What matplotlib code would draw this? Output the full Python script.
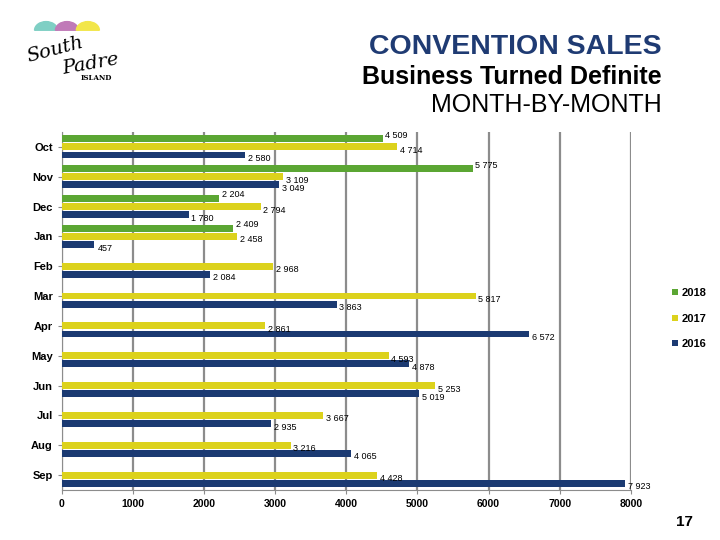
import numpy as np
import matplotlib.pyplot as plt
from matplotlib.patches import Wedge

months = ["Oct", "Nov", "Dec", "Jan", "Feb", "Mar", "Apr", "May", "Jun", "Jul", "Aug", "Sep"]
sales_2018 = [4509, 5775, 2204, 2409, None, None, None, None, None, None, None, None]
sales_2017 = [4714, 3109, 2794, 2458, 2968, 5817, 2861, 4593, 5253, 3667, 3216, 4428]
sales_2016 = [2580, 3049, 1780, 457, 2084, 3863, 6572, 4878, 5019, 2935, 4065, 7923]

green = "#5ba633"
yellow = "#dcd21c"
navy = "#1b3a72"

plt.rcParams['font.family'] = ['Liberation Sans', 'DejaVu Sans']

fig = plt.figure(figsize=(7.2, 5.4), dpi=100)
ax = fig.add_axes([0.0861, 0.0926, 0.790, 0.663])

y = np.arange(len(months))
h = 0.23
off = 0.27

series = [(sales_2018, green, "2018", -off, -0.12),
          (sales_2017, yellow, "2017", 0, 0.12),
          (sales_2016, navy, "2016", off, 0.12)]
handles = []
for vals, col, lab, o, lo in series:
    v = np.array([np.nan if s is None else s for s in vals], dtype=float)
    b = ax.barh(y + o, np.nan_to_num(v), height=h, color=col, label=lab, zorder=3)
    handles.append(b)
    for yi, val in zip(y, vals):
        if val is None:
            continue
        txt = f"{val:,}".replace(",", " ")
        ax.text(val + 40, yi + o + lo, txt, fontsize=6.5, va="center", ha="left", zorder=4)

ax.set_ylim(11.5, -0.5)
ax.set_xlim(0, 8000)
ax.set_xticks(range(0, 8001, 1000))
ax.set_yticks(y)
ax.set_yticklabels(months, fontsize=8, fontweight="bold")
for t in ax.get_xticklabels():
    t.set_fontsize(7.5)
    t.set_fontweight("bold")
ax.xaxis.grid(True, color="#8c8c8c", linewidth=1.6, zorder=0)
for s in ["top", "right"]:
    ax.spines[s].set_visible(False)
ax.spines["left"].set_color("#8c8c8c")
ax.spines["bottom"].set_color("#8c8c8c")
ax.tick_params(axis="both", colors="#8c8c8c", labelcolor="black", length=3)

leg = fig.legend(handles=handles, labels=["2018", "2017", "2016"], loc="upper left",
                 bbox_to_anchor=(0.92, 0.485), frameon=False, handlelength=0.5,
                 handleheight=0.5, labelspacing=1.4, handletextpad=0.3,
                 prop={"size": 8, "weight": "bold"})

# titles
fig.text(0.919, 0.913, "CONVENTION SALES", ha="right", va="center", fontsize=20.5,
         color="#1f3b73", fontweight="bold")
fig.text(0.919, 0.857, "Business Turned Definite", ha="right", va="center", fontsize=18,
         color="black", fontweight="bold")
fig.text(0.919, 0.806, "MONTH-BY-MONTH", ha="right", va="center", fontsize=18, color="black")

# logo
for cx, col in [(0.064, "#7fcfc4"), (0.093, "#c07ab8"), (0.122, "#f2e64a")]:
    fig.patches.append(Wedge((cx, 0.944), 0.016, 0, 180, color=col, transform=fig.transFigure))
fig.text(0.034, 0.908, "South", fontsize=14, fontstyle="italic", family="DejaVu Serif", rotation=15,
         va="center", ha="left")
fig.text(0.085, 0.882, "Padre", fontsize=14, fontstyle="italic", family="DejaVu Serif", rotation=10,
         va="center", ha="left")
fig.text(0.112, 0.856, "ISLAND", fontsize=5, fontweight="bold", family="DejaVu Serif", va="center", ha="left")

fig.text(0.962, 0.033, "17", fontsize=11, fontweight="bold", ha="right", va="center")

fig.savefig("out.png", dpi=100)
